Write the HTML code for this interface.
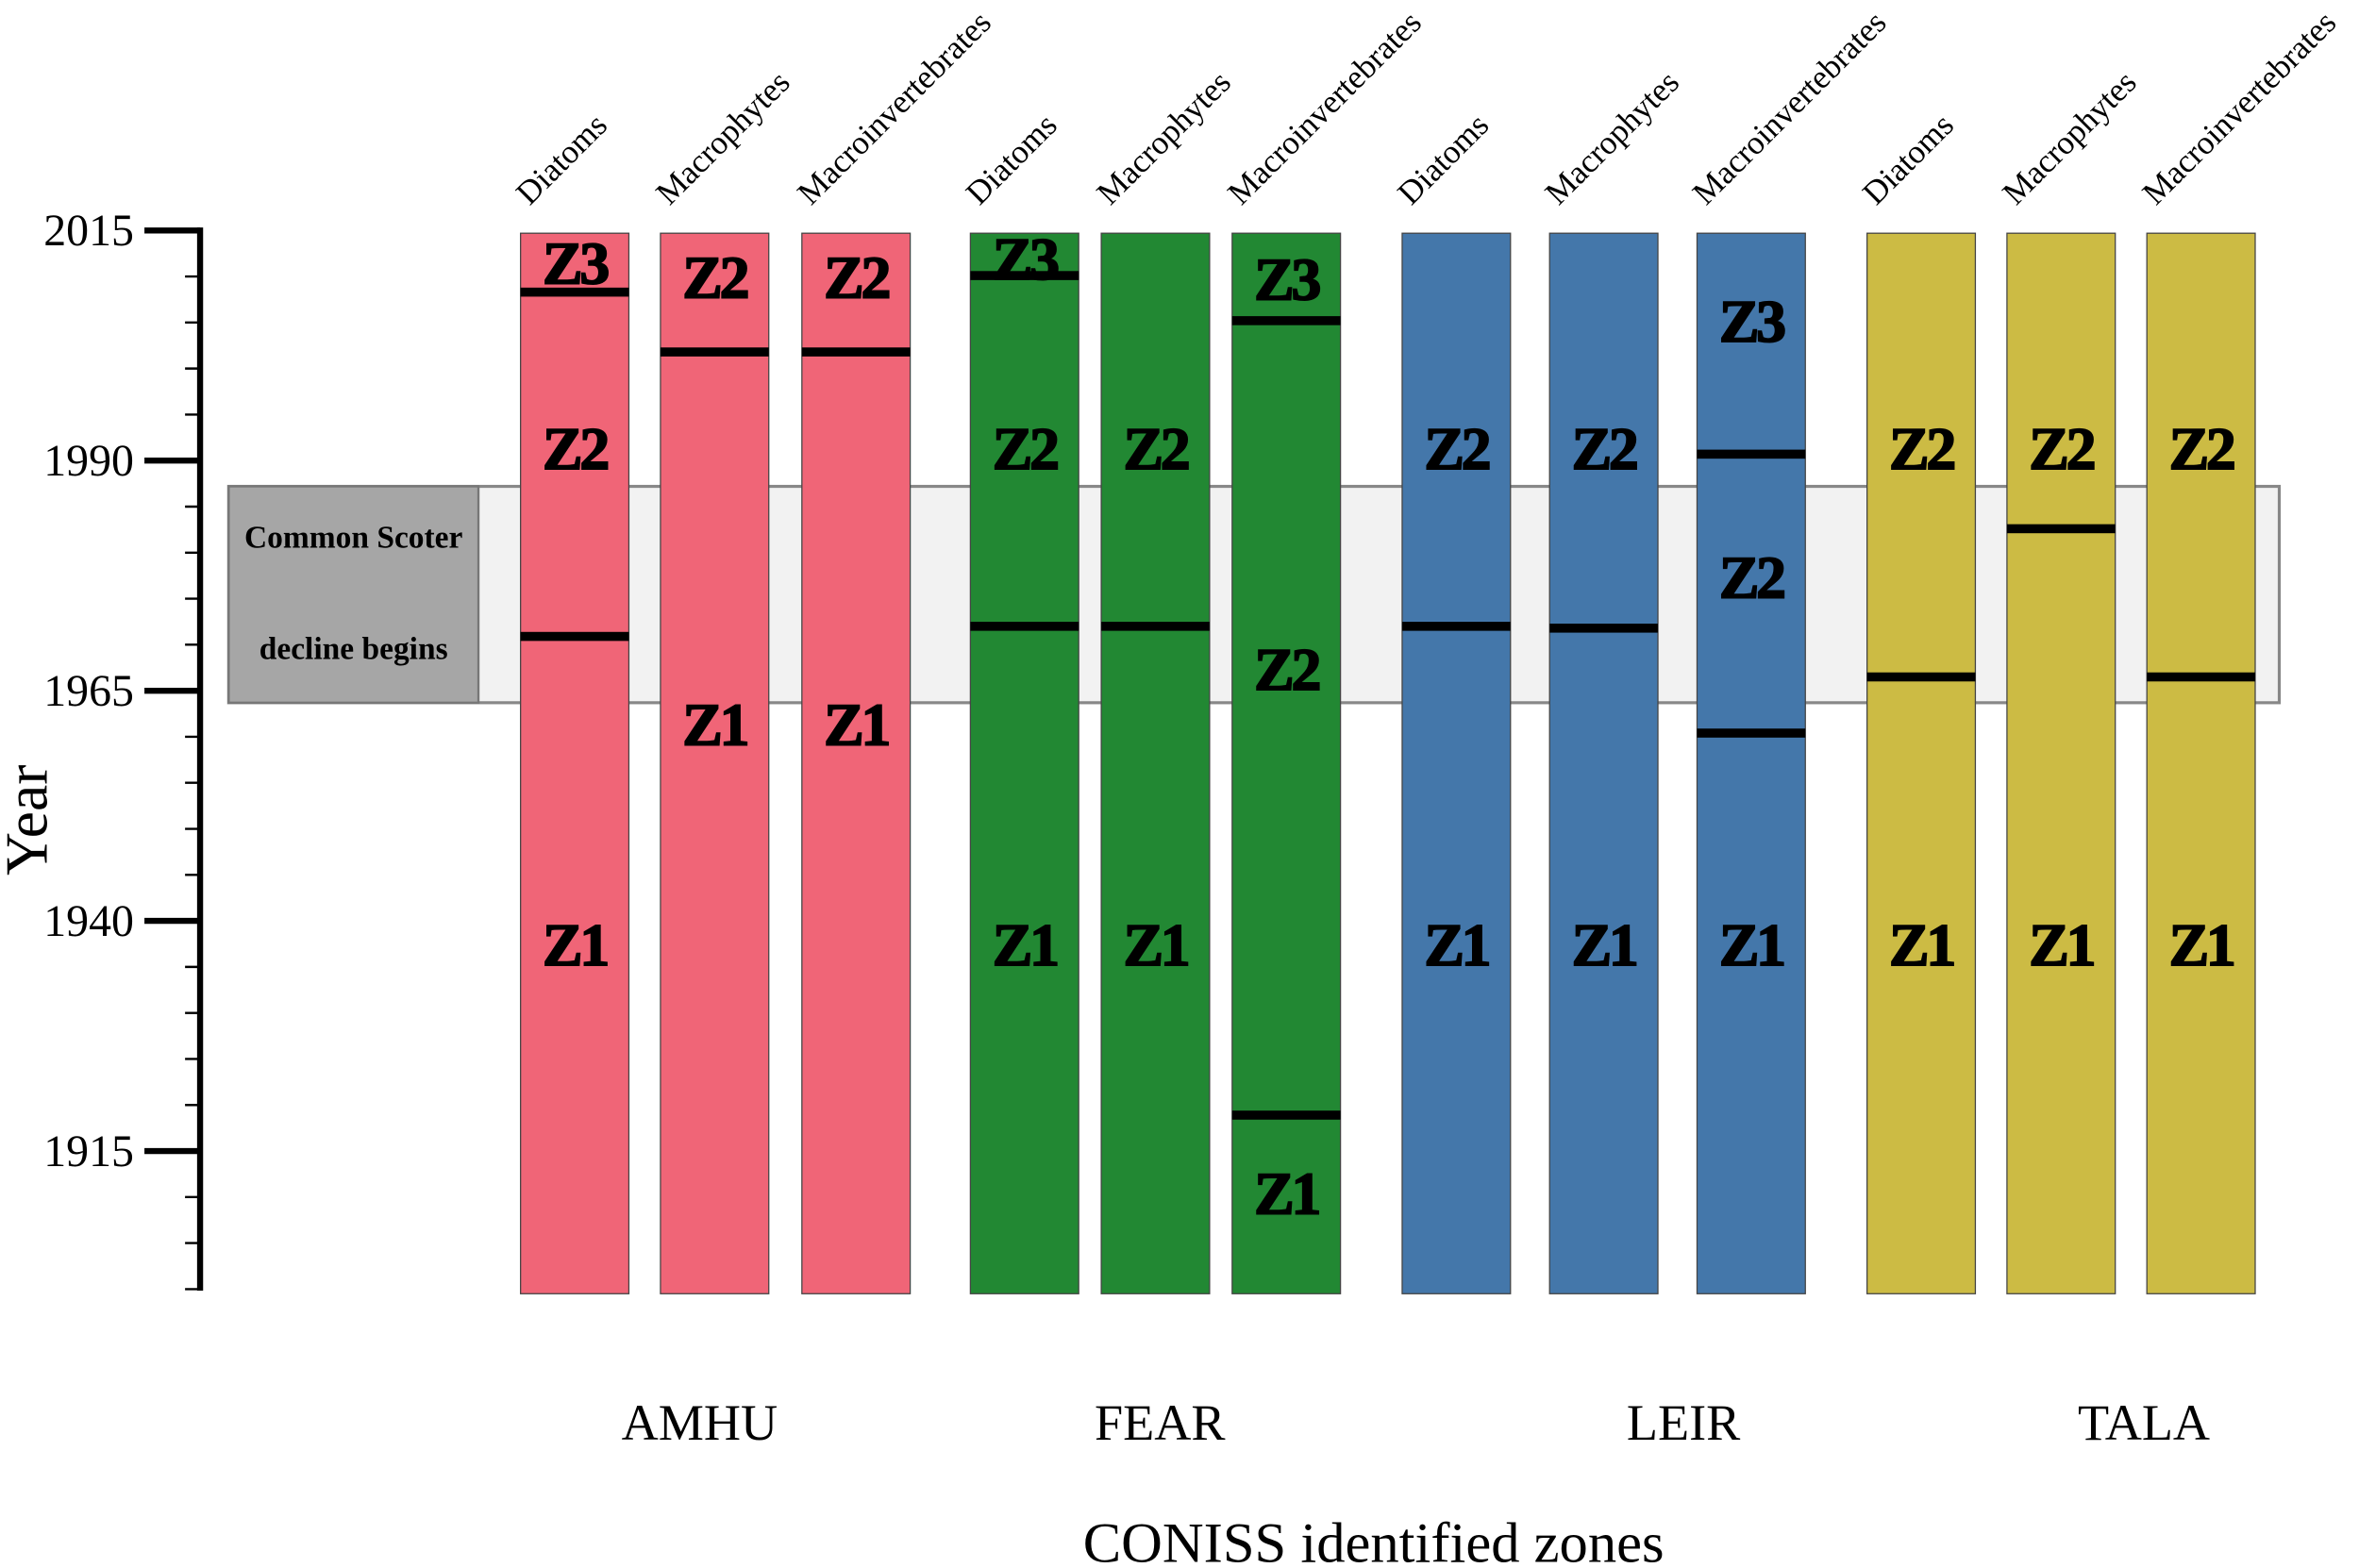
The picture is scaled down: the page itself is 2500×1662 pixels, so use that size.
<!DOCTYPE html>
<html><head><meta charset="utf-8"><style>
html,body{margin:0;padding:0;background:#fff;}
svg{display:block;font-family:"Liberation Serif",serif;}
</style></head><body>
<svg id="chart" width="2500" height="1662" viewBox="0 0 1568 1042" xmlns="http://www.w3.org/2000/svg">
<g id="bg"></g>
<g id="axis"></g>
<g id="bars"></g>
<g id="labels"></g>
</svg>
<script>
const yearTicks = [2015, 1990, 1965, 1940, 1915];
const minorStart = 1900;
const sites = ["AMHU", "FEAR", "LEIR", "TALA"];
const proxies = ["Diatoms", "Macrophytes", "Macroinvertebrates"];
const siteColors = ["#F06577", "#228833", "#4477AA", "#CCBB44"];
// zone boundary years per column (site x proxy, row-major)
const boundaries = [
  [2008.3, 1970.9], [2001.8], [2001.8],
  [2010.1, 1972.0], [1972.0], [2005.2, 1918.9],
  [1972.0], [1971.8], [1990.7, 1960.4],
  [1966.5], [1982.6], [1966.5]
];
const zoneNames = [
  ["Z3","Z2","Z1"], ["Z2","Z1"], ["Z2","Z1"],
  ["Z3","Z2","Z1"], ["Z2","Z1"], ["Z3","Z2","Z1"],
  ["Z2","Z1"], ["Z2","Z1"], ["Z3","Z2","Z1"],
  ["Z2","Z1"], ["Z2","Z1"], ["Z2","Z1"]
];
const zoneLabelYears = [
  [2011.5, 1991.4, 1937.5], [2010, 1961.4], [2010, 1961.4],
  [2012, 1991.4, 1937.5], [1991.4, 1937.5], [2009.8, 1967.4, 1910.5],
  [1991.4, 1937.5], [1991.4, 1937.5], [2005.2, 1977.4, 1937.5],
  [1991.4, 1937.5], [1991.4, 1937.5], [1991.4, 1937.5]
];
const declineYears = [1987.2, 1963.7];
const axisMin = 1900, axisMax = 2015, barBottomYear = 1899.5, barTopYear = 2014.7;

const NS = "http://www.w3.org/2000/svg";
const y = yr => 153 + (axisMax - yr) * 6.12;
const colLeft = [346,439,533, 645,732,819, 932,1030,1128, 1241,1334,1427];
const colW = 72;
function mk(tag, attrs, parent, text){
  const e = document.createElementNS(NS, tag);
  for (const k in attrs) e.setAttribute(k, attrs[k]);
  if (text !== undefined) e.textContent = text;
  parent.appendChild(e); return e;
}
const bg = document.getElementById("bg"), ax = document.getElementById("axis"),
      bars = document.getElementById("bars"), lab = document.getElementById("labels");

let band = mk("rect",{x:152,y:y(declineYears[0]),width:1363,height:y(declineYears[1])-y(declineYears[0]),fill:"#f2f2f2",stroke:"#888",["stroke-width"]:2},bg);


let box = mk("rect",{x:152,y:y(declineYears[0]),width:166,height:y(declineYears[1])-y(declineYears[0]),fill:"#a6a6a6",stroke:"#777",["stroke-width"]:1.5},bg);


let t1 = mk("text",{x:235,y:364,"text-anchor":"middle","font-size":21,"font-weight":"bold"},bg,"Common Scoter");


let t2 = mk("text",{x:235,y:438,"text-anchor":"middle","font-size":21,"font-weight":"bold"},bg,"decline begins");



let al = mk("line",{x1:133,y1:y(axisMax)-2,x2:133,y2:y(axisMin)+1,stroke:"#000","stroke-width":4},ax);


for (let yr = minorStart; yr <= axisMax; yr += 5){
  if (yearTicks.includes(yr)) continue;
  let tk = mk("line",{x1:123,y1:y(yr),x2:133,y2:y(yr),stroke:"#000","stroke-width":1.5},ax);
  
  
}
yearTicks.forEach(yr=>{
  let tk = mk("line",{x1:96,y1:y(yr),x2:133,y2:y(yr),stroke:"#000","stroke-width":4},ax);
  
  
  let tl = mk("text",{x:89,y:y(yr)+10,"text-anchor":"end","font-size":30},ax,String(yr));
  
  
});
let yt = mk("text",{x:0,y:0,"text-anchor":"middle","font-size":40,transform:"translate(31,545) rotate(-90)"},ax,"Year");



for (let i = 0; i < 12; i++){
  const s = Math.floor(i/3), p = i % 3, x0 = colLeft[i];
  let r = mk("rect",{x:x0,y:y(barTopYear),width:colW,height:y(barBottomYear)-y(barTopYear),fill:siteColors[s],stroke:"#444","stroke-width":0.8},bars);
  
  
  boundaries[i].forEach(b=>{
    let l = mk("rect",{x:x0,y:y(b)-3,width:colW,height:6,fill:"#000"},bars);
    
    
  });
  zoneNames[i].forEach((z,k)=>{
    let zl = mk("text",{x:x0+colW/2,y:y(zoneLabelYears[i][k])+14,"text-anchor":"middle","font-size":40,"font-weight":"bold","letter-spacing":-2,stroke:"#000","stroke-width":1.2},bars,z);
    
    
  });
  let hl = mk("text",{x:0,y:0,"font-size":22,transform:`translate(${x0+6},137) rotate(-45)`},lab,proxies[p]);
  
  
}
const siteCenters = [465, 771, 1119, 1425];
sites.forEach((s,i)=>{
  let sl = mk("text",{x:siteCenters[i],y:957,"text-anchor":"middle","font-size":34},lab,s);
  
  
});
let xt = mk("text",{x:913,y:1038,"text-anchor":"middle","font-size":38},lab,"CONISS identified zones");


</script>
</body></html>
